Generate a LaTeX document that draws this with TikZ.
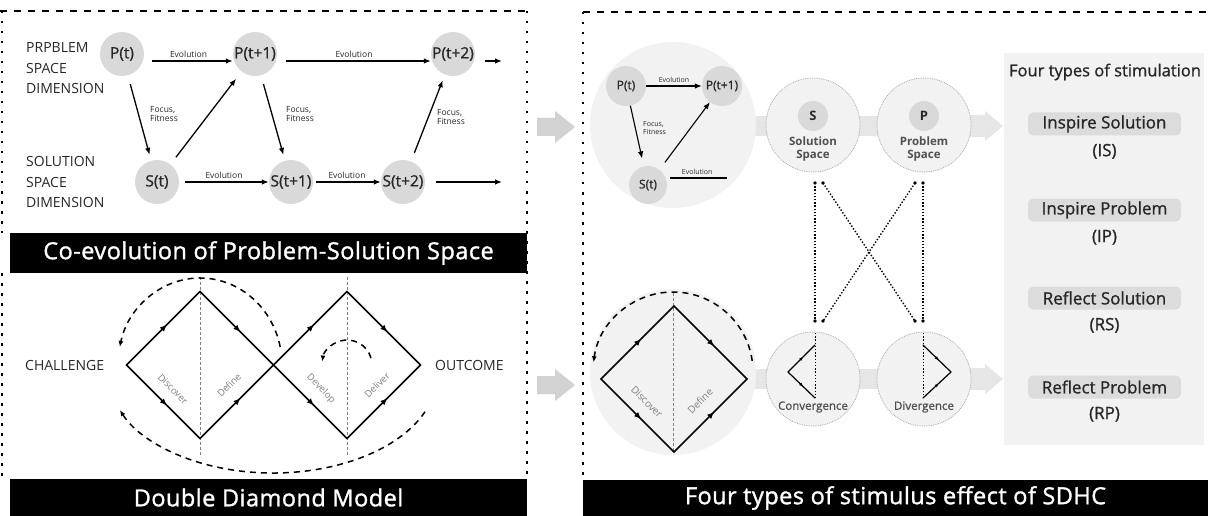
\documentclass[tikz,border=0pt]{standalone}
\usepackage{fontspec}
\setmainfont{Open Sans}
\newfontfamily\medfont{Open Sans}[FakeBold=1]
\newfontfamily\bannerfont{Open Sans}[FakeBold=1.4, LetterSpace=2]
\usetikzlibrary{arrows.meta,decorations.markings,positioning}

\definecolor{nodegray}{HTML}{D9D9D9}
\definecolor{palegray}{HTML}{F2F2F2}
\definecolor{bandgray}{HTML}{E6E6E6}
\definecolor{arrowgray}{HTML}{D2D2D2}
\definecolor{pillgray}{HTML}{DCDCDC}
\definecolor{txtgray}{HTML}{262626}
\definecolor{midgray}{HTML}{505050}
\definecolor{ringgray}{HTML}{A8A8A8}
\newcommand{\fsz}[2]{\fontsize{#1}{#2}\selectfont}

\begin{document}
\begin{tikzpicture}[x=1pt, y=1pt,
    spacenode/.style={circle, fill=nodegray, minimum size=44pt, inner sep=0pt, text=txtgray, font=\medfont\fsz{15.5}{18}},
    smallnode/.style={spacenode, minimum size=40pt, font=\medfont\fsz{12}{14}},
    evo/.style={-{Latex[length=7pt,width=5.5pt]}, line width=1.3pt},
    evolbl/.style={above=2pt, font=\fsz{8.5}{10}, text=txtgray, inner sep=1pt},
    fitlbl/.style={anchor=west, align=left, font=\fsz{8.5}{9.5}, text=txtgray, inner sep=0pt},
    dimlbl/.style={anchor=west, align=left, font=\fsz{14}{20.5}, text=txtgray, inner sep=0pt},
    sidelbl/.style={anchor=west, font=\fsz{14}{16}, text=txtgray, inner sep=0pt},
    phaselbl/.style={font=\fsz{9.5}{10}, text=gray, inner sep=0pt},
    banner/.style={fill=black, text=white, inner sep=0pt, font=\bannerfont\fsz{23.5}{26}},
    framedash/.style={line width=2pt, dash pattern=on 7pt off 7pt},
    framedot/.style={line width=2pt, dash pattern=on 2.5pt off 7.5pt},
    diamedge/.style={line width=1.6pt, line cap=round, postaction={decorate},
      decoration={markings, mark=at position 0.55 with {\arrow{Latex[length=7pt,width=6pt]}}}},
    tinyedge/.style={line width=1.2pt, line cap=round, postaction={decorate},
      decoration={markings, mark=at position 0.55 with {\arrow{Latex[length=3.5pt,width=3.5pt]}}}},
    loopdash/.style={line width=1.5pt, dash pattern=on 6pt off 5pt, -{Latex[length=6pt,width=5pt]}},
    axisdash/.style={gray, line width=0.6pt, dash pattern=on 3pt off 2pt},
    crossdot/.style={line width=1.4pt, dash pattern=on 1.4pt off 1.8pt},
    bigcirc/.style={circle, fill=palegray, minimum size=166pt, inner sep=0pt},
    ring/.style={circle, fill=palegray, draw=ringgray, line width=0.8pt, densely dotted, minimum size=94pt, inner sep=0pt},
    minidisc/.style={circle, fill=nodegray, minimum size=30pt, inner sep=0pt, font=\fsz{13}{15}\bfseries, text=txtgray},
    ringlbl/.style={align=center, font=\fsz{11.5}{13}\bfseries, text=midgray, inner sep=0pt},
    ringcap/.style={font=\medfont\fsz{11.5}{13}, text=midgray, inner sep=0pt},
    pill/.style={fill=pillgray, rounded corners=5pt, minimum width=153pt, minimum height=23pt, inner sep=0pt, font=\medfont\fsz{17}{19}, text=txtgray},
    abbrlbl/.style={font=\medfont\fsz{17}{19}, text=txtgray, inner sep=0pt}
  ]
  \useasboundingbox (0,0) rectangle (1208,-516);

  % --- Frames of both panels ---
  \draw[framedash] (0,-11) -- (527,-11);
  \draw[framedot] (2,-11) -- (2,-233);
  \draw[framedot] (2,-273) -- (2,-479);
  \draw[framedot] (527,-11) -- (527,-479);
  \draw[framedash] (583,-12) -- (1208,-12);
  \draw[framedot] (583,-12) -- (583,-480);

  % --- Part A: co-evolution ---
  \node[dimlbl] (dimP) at (26,-68.5) {PRPBLEM\\SPACE\\DIMENSION};
  \node[dimlbl] (dimS) at (26,-182) {SOLUTION\\SPACE\\DIMENSION};

  \node[spacenode] (P0) at (122,-54) {P(t)};
  \node[spacenode] (P1) at (255,-54) {P(t+1)};
  \node[spacenode] (P2) at (453,-54) {P(t+2)};
  \node[spacenode] (S0) at (157,-182) {S(t)};
  \node[spacenode] (S1) at (291,-182) {S(t+1)};
  \node[spacenode] (S2) at (403,-182) {S(t+2)};
  \coordinate (P3) at (502,-61);
  \coordinate (S3) at (502,-182);

  % evolution arrows
  \draw[evo, shorten <=8pt] ([yshift=-7pt]P0.east) -- node[evolbl] (ev1) {Evolution} ([yshift=-7pt]P1.west);
  \draw[evo, shorten <=9pt] ([yshift=-7pt]P1.east) -- node[evolbl] (ev2) {Evolution} ([yshift=-7pt]P2.west);
  \draw[evo, shorten <=10pt] ([yshift=-7pt]P2.east) -- (P3);
  \draw[evo, shorten <=6pt] (S0) -- node[evolbl] (ev3) {Evolution} (S1);
  \draw[evo, shorten <=3pt] (S1) -- node[evolbl] (ev4) {Evolution} (S2);
  \draw[evo, shorten <=11pt] (S2) -- (S3);

  % focus / fitness arrows
  \draw[evo, shorten <=9pt, shorten >=6pt] (P0) -- (S0);
  \draw[evo, shorten <=9pt, shorten >=9pt] (S0) -- (P1);
  \draw[evo, shorten <=9pt, shorten >=6pt] (P1) -- (S1);
  \draw[evo, shorten <=9pt, shorten >=6pt] (S2) -- (P2);
  \node[fitlbl] (fit1) at (150,-114) {Focus,\\Fitness};
  \node[fitlbl] (fit2) at (286,-114) {Focus,\\Fitness};
  \node[fitlbl] (fit3) at (437,-117) {Focus,\\Fitness};

  \node[banner, minimum width=517pt, minimum height=40pt] (ttlA) at (268.5,-253) {Co-evolution of Problem-Solution Space};

  % --- Part B: double diamond ---
  \node[sidelbl] (chal) at (25,-365) {CHALLENGE};
  \node[sidelbl] (outc) at (435,-365) {OUTCOME};

  \foreach \n/\cx in {dA/200, dB/347} {
    \coordinate (\n-C) at (\cx,-365);
    \coordinate (\n-L) at (\cx-73.5,-365);
    \coordinate (\n-T) at (\cx,-291.5);
    \coordinate (\n-R) at (\cx+73.5,-365);
    \coordinate (\n-B) at (\cx,-438.5);
    \draw[axisdash] (\cx,-277) -- (\cx,-457);
  }
  \foreach \n in {dA, dB}
    \foreach \a/\b in {L/T, T/R, L/B, B/R}
      \draw[diamedge] (\n-\a) -- (\n-\b);

  \node[phaselbl, rotate=-45] (disc) at (173,-389) {Discover};
  \node[phaselbl, rotate=45] (defi) at (229,-385) {Define};
  \node[phaselbl, rotate=-45] (deve) at (321,-389) {Develop};
  \node[phaselbl, rotate=45] (deli) at (377,-385) {Deliver};

  % dashed loops
  \draw[loopdash] (dA-C) ++(12:82 and 87) arc[start angle=12, end angle=168, x radius=82, y radius=87];
  \draw[loopdash] (273,-375) ++(-22:164 and 98) arc[start angle=-22, end angle=-159, x radius=164, y radius=98];
  \draw[loopdash] (dB-C) ++(16:25) arc[start angle=16, end angle=172, radius=25];

  \node[banner, minimum width=517pt, minimum height=37pt] (ttlB) at (268.5,-497.5) {Double Diamond Model};

  % --- arrows between the panels ---
  \fill[arrowgray] (537,-118) -- (555,-118) -- (555,-111) -- (575,-127) -- (555,-143) -- (555,-136) -- (537,-136) -- cycle;
  \fill[arrowgray] (537,-376) -- (555,-376) -- (555,-369) -- (575,-385) -- (555,-401) -- (555,-394) -- (537,-394) -- cycle;

  % --- Part C: stimulus effect ---
  \fill[bandgray] (750,-116) rectangle (885,-136);
  \fill[bandgray] (750,-369) rectangle (885,-389);
  \fill[bandgray] (965,-115) -- (985,-115) -- (985,-111) -- (1003,-126) -- (985,-141) -- (985,-137) -- (965,-137) -- cycle;
  \fill[bandgray] (965,-368) -- (985,-368) -- (985,-364) -- (1003,-379) -- (985,-394) -- (985,-390) -- (965,-390) -- cycle;

  \node[bigcirc] (evoC) at (673,-125) {};
  \node[bigcirc] (ddC) at (673,-372) {};
  \node[ring] (solC) at (813,-125) {};
  \node[ring] (proC) at (924,-125) {};
  \node[ring] (conC) at (813,-379) {};
  \node[ring] (divC) at (924,-379) {};

  % small co-evolution
  \node[smallnode] (rP0) at (626,-86) {P(t)};
  \node[smallnode] (rP1) at (722,-86) {P(t+1)};
  \node[smallnode, minimum size=38pt] (rS0) at (648,-185) {S(t)};
  \coordinate (rS1) at (727,-178);
  \draw[evo, line width=1.1pt] (rP0) -- node[evolbl, font=\fsz{7}{8}] (rev1) {Evolution} (rP1);
  \draw[evo, line width=1.1pt, shorten >=8pt] (rP0) -- (rS0);
  \draw[evo, line width=1.1pt, shorten <=9pt] (rS0) -- (rP1);
  \draw[line width=1.1pt, shorten <=3pt] ([yshift=7pt]rS0.east) -- node[evolbl, font=\fsz{7}{8}] (rev2) {Evolution} (rS1);
  \node[fitlbl, font=\fsz{7}{8}] (rfit) at (643,-128) {Focus,\\Fitness};

  % solution / problem space
  \node[minidisc] (sDisc) at (813,-116) {S};
  \node[ringlbl] (sLbl) at (813,-149.5) {Solution\\Space};
  \node[minidisc] (pDisc) at (924,-116) {P};
  \node[ringlbl] (pLbl) at (924,-149.5) {Problem\\Space};

  % small double diamond
  \coordinate (rd-L) at (601,-379);
  \coordinate (rd-T) at (674,-306);
  \coordinate (rd-R) at (747,-379);
  \coordinate (rd-B) at (674,-452);
  \draw[axisdash] (673,-293) -- (673,-452);
  \foreach \a/\b in {L/T, T/R, L/B, B/R}
    \draw[diamedge] (rd-\a) -- (rd-\b);
  \node[phaselbl, font=\fsz{10}{10}, rotate=-45] (rdisc) at (647,-402) {Discover};
  \node[phaselbl, font=\fsz{10}{10}, rotate=45] (rdefi) at (700,-401) {Define};
  \draw[loopdash] (ddC.center) ++(8:80) arc[start angle=8, end angle=173, radius=80];

  % convergence / divergence
  \coordinate (cv-T) at (815,-345);
  \coordinate (cv-V) at (788,-372);
  \coordinate (cv-B) at (815,-398);
  \coordinate (dv-T) at (923,-345);
  \coordinate (dv-V) at (951,-372);
  \coordinate (dv-B) at (923,-398);
  \draw[crossdot, line width=1pt] (815,-333) -- (cv-B);
  \draw[crossdot, line width=1pt] (923,-333) -- (dv-B);
  \draw[tinyedge] (cv-V) -- (cv-T);
  \draw[tinyedge] (cv-V) -- (cv-B);
  \draw[tinyedge] (dv-T) -- (dv-V);
  \draw[tinyedge] (dv-B) -- (dv-V);
  \node[ringcap] (cvLbl) at (813,-407) {Convergence};
  \node[ringcap] (dvLbl) at (924,-407) {Divergence};

  % dotted cross
  \coordinate (sTop1) at (815,-183);
  \coordinate (sTop2) at (823,-183);
  \coordinate (pTop1) at (915,-183);
  \coordinate (pTop2) at (923,-183);
  \coordinate (cBot1) at (815,-321);
  \coordinate (cBot2) at (823,-321);
  \coordinate (dBot1) at (915,-321);
  \coordinate (dBot2) at (923,-321);
  \draw[crossdot] (sTop1) -- (cBot1);
  \draw[crossdot] (sTop2) -- (dBot1);
  \draw[crossdot] (pTop1) -- (cBot2);
  \draw[crossdot] (pTop2) -- (dBot2);
  \foreach \c in {sTop1, sTop2, pTop1, pTop2, cBot1, cBot2, dBot1, dBot2}
    \fill (\c) circle (1.8);

  % four types of stimulation
  \node[fill=palegray, minimum width=200pt, minimum height=392pt, inner sep=0pt] (typesBox) at (1104,-249) {};
  \node[abbrlbl, font=\medfont\fsz{16.5}{19}] (typesTtl) at (1105,-72) {Four types of stimulation};
  \foreach \nm/\txt/\yy in {IS/Inspire Solution/124, IP/Inspire Problem/210, RS/Reflect Solution/298, RP/Reflect Problem/387} {
    \node[pill] (\nm) at (1104.5,-\yy) {\txt};
    \node[abbrlbl, below=8pt of \nm] (\nm-ab) {(\nm)};
  }

  \node[banner, minimum width=625pt, minimum height=36pt] (ttlC) at (895.5,-498) {Four types of stimulus effect of SDHC};
\end{tikzpicture}
\end{document}
